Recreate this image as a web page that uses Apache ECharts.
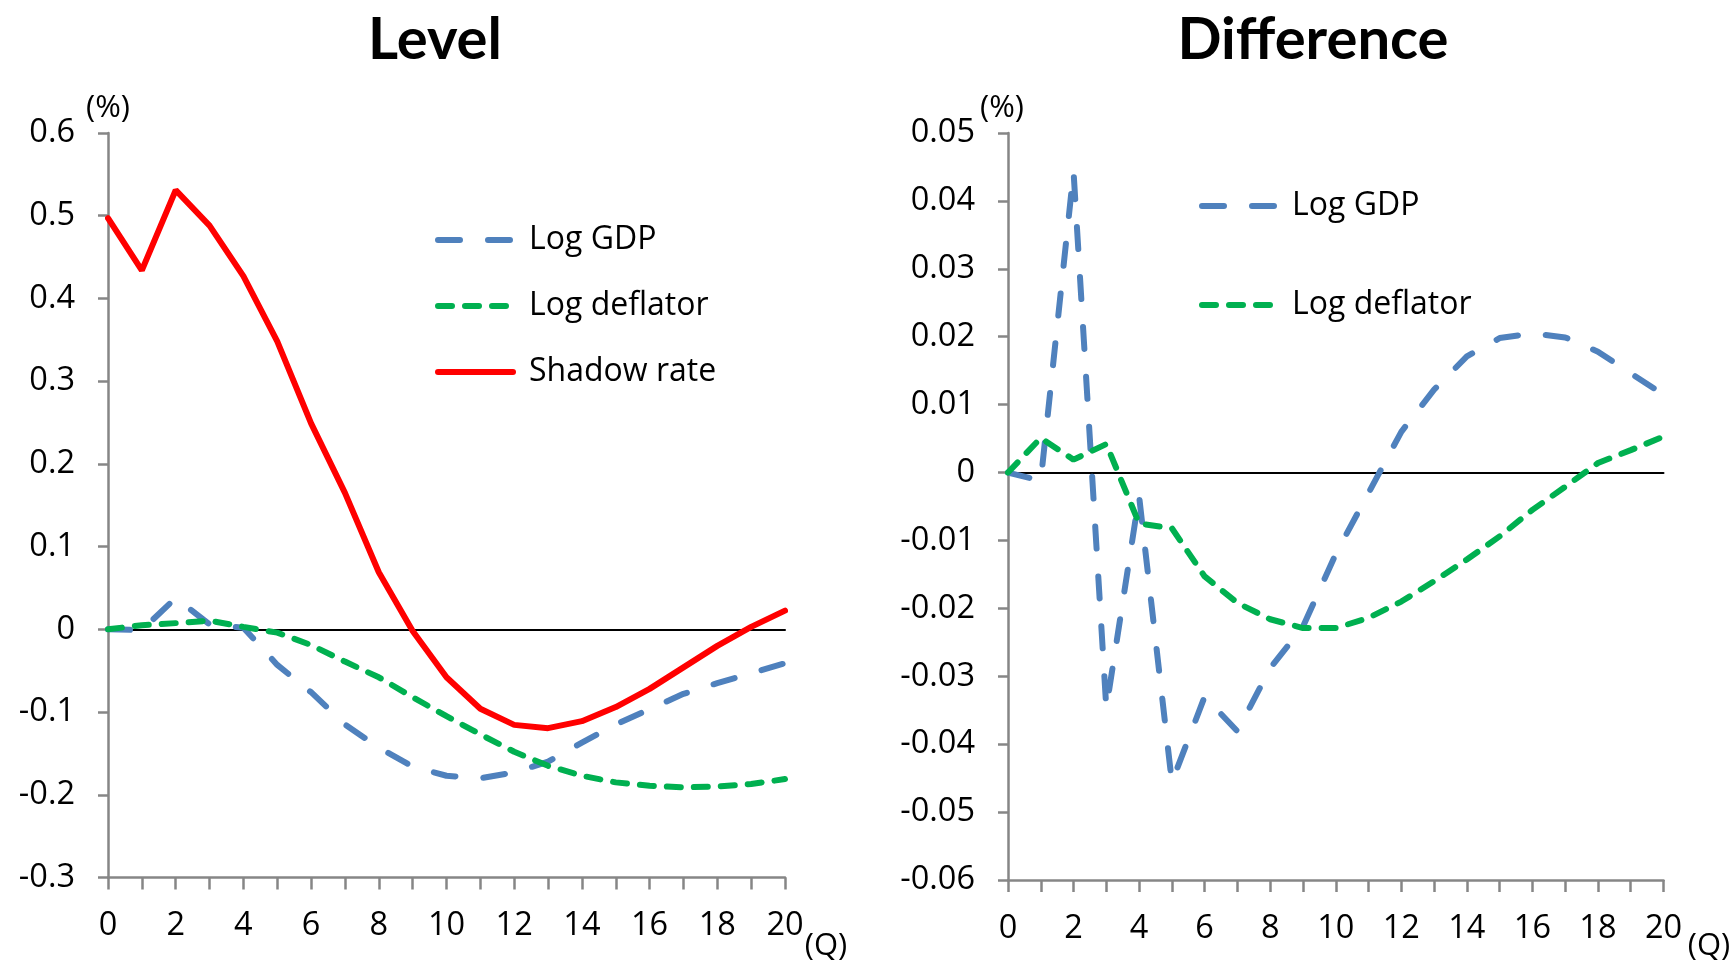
<!DOCTYPE html>
<html>
<head>
<meta charset="utf-8">
<title>Level and Difference</title>
<script src="https://cdn.jsdelivr.net/npm/echarts@6/dist/echarts.min.js"></script>
<style>
  html, body { margin: 0; padding: 0; background: #fff; }
  #chart { width: 1733px; height: 963px; }
</style>
</head>
<body>
<div id="chart"></div>
<script>
// Quarters after the shock
const quarters = [0, 1, 2, 3, 4, 5, 6, 7, 8, 9, 10, 11, 12, 13, 14, 15, 16, 17, 18, 19, 20];

// Level responses (%)
const levelGdp = [0, -0.001, 0.038, 0.006, 0.002, -0.043, -0.076, -0.115, -0.143, -0.166, -0.177,
  -0.180, -0.173, -0.160, -0.137, -0.115, -0.0965, -0.078, -0.065, -0.053, -0.041];
const levelDeflator = [0, 0.005, 0.0075, 0.0105, 0.003, -0.004, -0.019, -0.039, -0.058, -0.082, -0.105,
  -0.127, -0.148, -0.165, -0.177, -0.185, -0.189, -0.191, -0.190, -0.187, -0.181];
const levelShadowRate = [0.497, 0.434, 0.531, 0.488, 0.427, 0.348, 0.249, 0.165, 0.069, -0.002, -0.058,
  -0.096, -0.1155, -0.1195, -0.111, -0.094, -0.072, -0.046, -0.020, 0.003, 0.0226];

// Quarter-on-quarter differences (%)
const diffGdp = [0, -0.0012, 0.0443, -0.0347, -0.0035, -0.0456, -0.033, -0.0381, -0.0288, -0.0227, -0.012,
  -0.003, 0.006, 0.0122, 0.0171, 0.0198, 0.0205, 0.0199, 0.0178, 0.0146, 0.0115];
const diffDeflator = [0, 0.0051, 0.0019, 0.0042, -0.0075, -0.0082, -0.0153, -0.0192, -0.0216, -0.0229, -0.0229,
  -0.0214, -0.019, -0.016, -0.0128, -0.0094, -0.0055, -0.0021, 0.0014, 0.0033, 0.0053];

// Axis scales
const levelAxis = { min: -0.3, max: 0.6, interval: 0.1 };
const diffAxis = { min: -0.06, max: 0.05, interval: 0.01 };

const FONT = '"Open Sans", Lato, sans-serif';
const TITLE_FONT = 'Lato, "Open Sans", sans-serif';
const AXIS_GRAY = '#868686';
const BLUE = '#4F81BD';
const GREEN = '#00B050';
const RED = '#FF0000';

const gdpLine = { color: BLUE, width: 6, type: [22, 28], cap: 'round' };
const deflLine = { color: GREEN, width: 6, type: [14, 13], cap: 'round' };
const shadowLine = { color: RED, width: 6, type: 'solid', cap: 'round' };

function fmt(v) {
  return String(Number(Number(v).toFixed(3)));
}

function bottomAxis(gridIndex) {
  return {
    type: 'category', gridIndex, data: quarters, boundaryGap: false, position: 'bottom',
    axisLine: { onZero: false, lineStyle: { color: AXIS_GRAY, width: 2.5 } },
    axisTick: { show: true, interval: 0, length: 12, inside: false, lineStyle: { color: AXIS_GRAY, width: 2.5 } },
    axisLabel: { interval: 1, margin: 32, color: '#000', fontSize: 32.5, fontFamily: FONT },
    splitLine: { show: false }
  };
}

// Thin black line drawn through zero of the value axis
function zeroAxis(gridIndex) {
  return {
    type: 'category', gridIndex, data: quarters, boundaryGap: false, position: 'top',
    axisLine: { onZero: true, lineStyle: { color: '#000', width: 2 } },
    axisTick: { show: false }, axisLabel: { show: false }, splitLine: { show: false }
  };
}

function valueAxis(gridIndex, scale) {
  return {
    type: 'value', gridIndex, min: scale.min, max: scale.max, interval: scale.interval,
    axisLine: { show: true, onZero: false, lineStyle: { color: AXIS_GRAY, width: 2.5 } },
    axisTick: { show: true, length: 10, lineStyle: { color: AXIS_GRAY, width: 2.5 } },
    axisLabel: { margin: 33, color: '#000', fontSize: 32.5, fontFamily: FONT, formatter: fmt },
    splitLine: { show: false }
  };
}

function lineSeries(name, data, style, xIdx, yIdx) {
  return {
    type: 'line', name, data, xAxisIndex: xIdx, yAxisIndex: yIdx,
    symbol: 'none', smooth: false, color: style.color, lineStyle: style,
    emphasis: { disabled: true }, silent: true
  };
}

// Legend keys show the line only, at full stroke width
const legendCommon = {
  orient: 'vertical', itemHeight: 14, selectedMode: false,
  itemStyle: { opacity: 0 },
  lineStyle: { width: 6, cap: 'round' },
  textStyle: { fontSize: 32, lineHeight: 32, color: '#000', fontFamily: FONT }
};

const chart = echarts.init(document.getElementById('chart'), null, { renderer: 'canvas' });

chart.setOption({
  animation: false,
  backgroundColor: '#fff',
  grid: [
    { left: 108, right: 948, top: 133, bottom: 85.5, containLabel: false },
    { left: 1008, right: 69.5, top: 133, bottom: 83, containLabel: false }
  ],
  xAxis: [bottomAxis(0), zeroAxis(0), bottomAxis(1), zeroAxis(1)],
  yAxis: [valueAxis(0, levelAxis), valueAxis(1, diffAxis)],
  legend: [
    Object.assign({}, legendCommon, {
      data: ['Log GDP', 'Log deflator', 'Shadow rate'],
      left: 430, top: 219, itemWidth: 75, itemGap: 34,
      textStyle: Object.assign({}, legendCommon.textStyle, { padding: [0, 0, 0, 11] })
    }),
    Object.assign({}, legendCommon, {
      data: ['Log GDP', 'Log deflator'],
      left: 1194, top: 185, itemWidth: 72, itemGap: 67,
      textStyle: Object.assign({}, legendCommon.textStyle, { padding: [0, 0, 0, 13] })
    })
  ],
  series: [
    lineSeries('Log GDP', levelGdp, gdpLine, 0, 0),
    lineSeries('Log deflator', levelDeflator, deflLine, 0, 0),
    lineSeries('Shadow rate', levelShadowRate, shadowLine, 0, 0),
    lineSeries('Log GDP', diffGdp, gdpLine, 2, 1),
    lineSeries('Log deflator', diffDeflator, deflLine, 2, 1)
  ],
  graphic: [
    { type: 'text', x: 435, y: 40, style: { text: 'Level', font: 'bold 58px ' + TITLE_FONT, fill: '#000', textAlign: 'center', textVerticalAlign: 'middle' } },
    { type: 'text', x: 1313, y: 40, style: { text: 'Difference', font: 'bold 58px ' + TITLE_FONT, fill: '#000', textAlign: 'center', textVerticalAlign: 'middle' } },
    { type: 'text', x: 108, y: 108, style: { text: '(%)', font: '31px ' + FONT, fill: '#000', textAlign: 'center', textVerticalAlign: 'middle' } },
    { type: 'text', x: 1002, y: 108, style: { text: '(%)', font: '31px ' + FONT, fill: '#000', textAlign: 'center', textVerticalAlign: 'middle' } },
    { type: 'text', x: 826, y: 946, style: { text: '(Q)', font: '31px ' + FONT, fill: '#000', textAlign: 'center', textVerticalAlign: 'middle' } },
    { type: 'text', x: 1709, y: 946, style: { text: '(Q)', font: '31px ' + FONT, fill: '#000', textAlign: 'center', textVerticalAlign: 'middle' } }
  ]
});
</script>
</body>
</html>
